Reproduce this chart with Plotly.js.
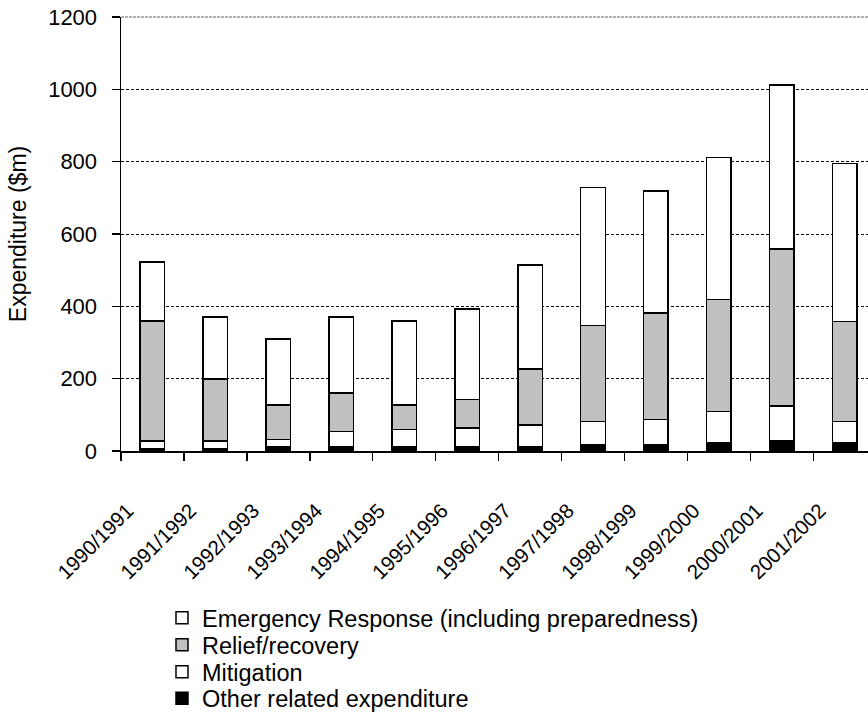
<!DOCTYPE html>
<html>
<head>
<meta charset="utf-8">
<script src="https://cdn.plot.ly/plotly-3.0.1.min.js"></script>
<style>html,body{margin:0;padding:0;background:#fff;}#chart{width:868px;height:715px;}</style>
</head>
<body>
<div id="chart"></div>
<script>
const years = ["1990/1991","1991/1992","1992/1993","1993/1994","1994/1995","1995/1996","1996/1997","1997/1998","1998/1999","1999/2000","2000/2001","2001/2002"];
const otherExp = [5,5,11,11,11,11,13,17,17,24,28,24];
const mitigation = [22,22,21,43,49,53,59,64,70,85,97,58];
const relief = [332,172,95,106,67,78,155,266,294,310,433,276];
const emergency = [164,171,183,210,232,250,287,382,338,393,454,437];
const yTicks = [0,200,400,600,800,1000,1200];

const FONT = "Liberation Sans, Arial, sans-serif";
const line = {color:"#000", width:1.5};

const traces = [
  {name:"Other related expenditure", y:otherExp, color:"#000000", legend:"legend4"},
  {name:"Mitigation", y:mitigation, color:"#ffffff", legend:"legend3"},
  {name:"Relief/recovery", y:relief, color:"#c0c0c0", legend:"legend2"},
  {name:"Emergency Response (including preparedness)", y:emergency, color:"#ffffff", legend:"legend"}
].map(t => ({
  type:"bar", x:years, y:t.y, name:t.name, legend:t.legend,
  marker:{color:t.color, line:line}, hoverinfo:"x+y+name"
}));

function leg(py){
  return {x:(162-121)/747, xanchor:"left", y:(451-py)/434, yanchor:"middle",
    font:{family:FONT, size:23.5, color:"#000"}, bgcolor:"rgba(0,0,0,0)", borderwidth:0};
}

const layout = {
  width:868, height:715,
  margin:{l:121, r:0, t:17, b:264, pad:0, autoexpand:false},
  paper_bgcolor:"#fff", plot_bgcolor:"#fff",
  barmode:"stack", bargap:0.61,
  font:{family:FONT, color:"#000"},
  showlegend:true,
  legend:leg(618), legend2:leg(645), legend3:leg(672), legend4:leg(698.5),
  xaxis:{
    type:"category", range:[-0.5, 11.37], autorange:false,
    showline:true, linecolor:"#000", linewidth:1.5,
    ticks:"outside", tickson:"boundaries", ticklen:8, tickwidth:1.5, tickcolor:"#000",
    tickangle:-45, tickfont:{family:FONT, size:20.5, color:"#000"},
    ticklabelstandoff:38, ticklabelshift:-25,
    showgrid:false, zeroline:false, automargin:false, fixedrange:true
  },
  yaxis:{
    range:[0,1200], autorange:false, tickvals:yTicks,
    showline:true, linecolor:"#000", linewidth:1.5,
    ticks:"outside", ticklen:8, tickwidth:1.5, tickcolor:"#000",
    tickfont:{family:FONT, size:22, color:"#000"}, ticklabelstandoff:10,
    showgrid:true, gridcolor:"#000", gridwidth:1, griddash:"3px,2px",
    zeroline:false, automargin:false, fixedrange:true,
    title:{text:"Expenditure ($m)", font:{family:FONT, size:23, color:"#000"}, standoff:15}
  },
  shapes:[{type:"line", xref:"paper", yref:"paper", x0:0, x1:1, y0:1, y1:1,
    line:{color:"#999", width:1.5, dash:"3px,1px"}, layer:"below"}]
};

Plotly.newPlot("chart", traces, layout, {displayModeBar:false, staticPlot:true});
</script>
</body>
</html>
